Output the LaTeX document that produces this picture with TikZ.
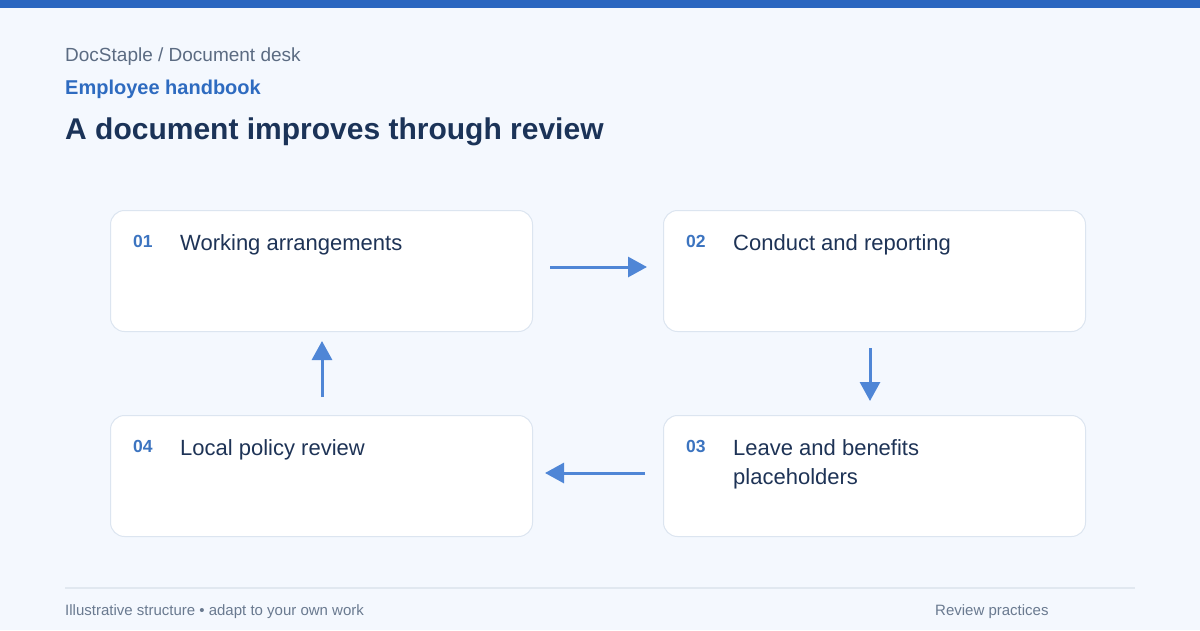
\documentclass[tikz,border=0pt]{standalone}
\usepackage{fontspec}
\setmainfont{Liberation Sans}
\usetikzlibrary{arrows.meta}
\definecolor{bg}{HTML}{F4F8FE}
\definecolor{topbar}{HTML}{2A66C0}
\definecolor{crumb}{HTML}{5B6B82}
\definecolor{kicker}{HTML}{2E6BC0}
\definecolor{titlec}{HTML}{1B3358}
\definecolor{boxline}{HTML}{DCE5F0}
\definecolor{numc}{HTML}{3C74C0}
\definecolor{textc}{HTML}{1E3356}
\definecolor{arrowc}{HTML}{4F86D6}
\definecolor{footline}{HTML}{E1E8F0}
\definecolor{footc}{HTML}{6A7A90}
\begin{document}
\begin{tikzpicture}[x=1pt,y=-1pt,
  card/.style={draw=boxline, line width=1pt, fill=white, rounded corners=14pt, minimum width=422pt, minimum height=121pt, anchor=north west, inner sep=0pt},
  numlab/.style={anchor=base west, font=\fontsize{17.5}{20}\selectfont\bfseries, text=numc, inner sep=0pt},
  steplab/.style={anchor=base west, font=\fontsize{22}{29}\selectfont, text=textc, inner sep=0pt, align=left},
  flow/.style={draw=arrowc, line width=3pt, -{Triangle[length=19pt,width=20pt]}},
  footlab/.style={anchor=base west, font=\fontsize{15}{17}\selectfont, text=footc, inner sep=0pt}
]
\useasboundingbox (0,0) rectangle (1200,630);
\fill[bg] (0,0) rectangle (1200,630);
\fill[topbar] (0,0) rectangle (1200,8);

\node[anchor=base west, inner sep=0pt, font=\fontsize{19}{22}\selectfont, text=crumb] (crumb) at (65,61) {DocStaple / Document desk};
\node[anchor=base west, inner sep=0pt, font=\fontsize{20}{23}\selectfont\bfseries, text=kicker] (kick) at (65,94) {Employee handbook};
\node[anchor=base west, inner sep=0pt, font=\fontsize{30}{34}\selectfont\bfseries, text=titlec] (title) at (65,139) {A document improves through review};

\node[card] (c1) at (110,210) {};
\node[card] (c2) at (663,210) {};
\node[card] (c3) at (663,415) {};
\node[card] (c4) at (110,415) {};

\node[numlab] (n1) at (133,247) {01};
\node[steplab] (t1) at (180,250) {Working arrangements};
\node[numlab] (n2) at (686,247) {02};
\node[steplab] (t2) at (733,250) {Conduct and reporting};
\node[numlab] (n3) at (686,452) {03};
\node[steplab] (t3) at (733,484) {Leave and benefits\\placeholders};
\node[numlab] (n4) at (133,452) {04};
\node[steplab] (t4) at (180,455) {Local policy review};

\coordinate (a1s) at (550,267); \coordinate (a1e) at (647,267);
\coordinate (a2s) at (870,348); \coordinate (a2e) at (870,401);
\coordinate (a3s) at (645,473); \coordinate (a3e) at (545,473);
\coordinate (a4s) at (322,397); \coordinate (a4e) at (322,341);
\draw[flow] (a1s) -- (a1e);
\draw[flow] (a2s) -- (a2e);
\draw[flow] (a3s) -- (a3e);
\draw[flow] (a4s) -- (a4e);

\coordinate (fl) at (65,588); \coordinate (fr) at (1135,588);
\draw[footline, line width=2pt] (fl) -- (fr);
\node[footlab] (f1) at (65,615) {Illustrative structure • adapt to your own work};
\node[footlab] (f2) at (935,615) {Review practices};
\end{tikzpicture}
\end{document}
